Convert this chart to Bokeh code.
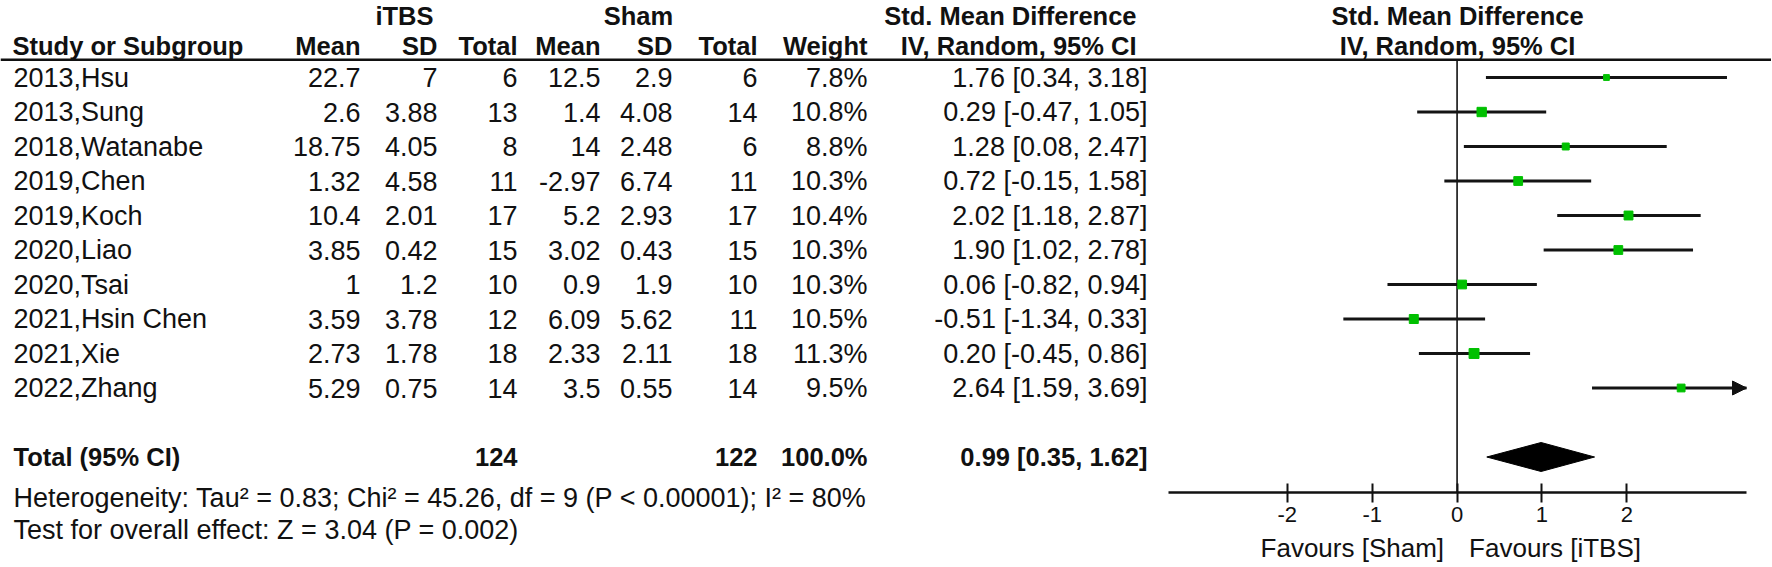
from bokeh.plotting import figure
from bokeh.models import Range1d, Span, FixedTicker, Arrow, NormalHead, LinearAxis
from bokeh.embed import file_html
from bokeh.resources import INLINE
from bokeh.core.properties import value

# ---------------- data ----------------
studies = ["2013,Hsu", "2013,Sung", "2018,Watanabe", "2019,Chen", "2019,Koch",
           "2020,Liao", "2020,Tsai", "2021,Hsin Chen", "2021,Xie", "2022,Zhang"]
itbs_mean = [22.7, 2.6, 18.75, 1.32, 10.4, 3.85, 1, 3.59, 2.73, 5.29]
itbs_sd = [7, 3.88, 4.05, 4.58, 2.01, 0.42, 1.2, 3.78, 1.78, 0.75]
itbs_n = [6, 13, 8, 11, 17, 15, 10, 12, 18, 14]
sham_mean = [12.5, 1.4, 14, -2.97, 5.2, 3.02, 0.9, 6.09, 2.33, 3.5]
sham_sd = [2.9, 4.08, 2.48, 6.74, 2.93, 0.43, 1.9, 5.62, 2.11, 0.55]
sham_n = [6, 14, 6, 11, 17, 15, 10, 11, 18, 14]
weight = [7.8, 10.8, 8.8, 10.3, 10.4, 10.3, 10.3, 10.5, 11.3, 9.5]
smd = [1.76, 0.29, 1.28, 0.72, 2.02, 1.90, 0.06, -0.51, 0.20, 2.64]
ci_low = [0.34, -0.47, 0.08, -0.15, 1.18, 1.02, -0.82, -1.34, -0.45, 1.59]
ci_high = [3.18, 1.05, 2.47, 1.58, 2.87, 2.78, 0.94, 0.33, 0.86, 3.69]
total_itbs_n = 124
total_sham_n = 122
total_weight = 100.0
total_smd = 0.99
total_low = 0.35
total_high = 1.62
heterogeneity = "Heterogeneity: Tau\u00b2 = 0.83; Chi\u00b2 = 45.26, df = 9 (P < 0.00001); I\u00b2 = 80%"
overall_effect = "Test for overall effect: Z = 3.04 (P = 0.002)"
x_ticks = [-2, -1, 0, 1, 2]
group_labels = ["iTBS", "Sham"]
favours_left = "Favours [Sham]"
favours_right = "Favours [iTBS]"

# ---------------- layout ----------------
FONT = "Liberation Sans"
FS = "27px"        # regular text
FSB = "25.5px"     # bold text
BLACK = "#111111"
GREEN = "#00c000"
PX_W, PX_H = 1771, 566

# forest-plot scale: effect axis from X_LO to X_HI spans pixels F_L..F_R
F_L, F_R = 1168, 1746
X_LO, X_HI = -3.40, 3.41
scale = (F_R - F_L) / (X_HI - X_LO)
XR = Range1d(X_LO - F_L / scale, X_HI + (PX_W - F_R) / scale)

# rows: row i centred at ROW0 + PITCH * i pixels from the top
ROW0, PITCH = 77, 34.5
YR = Range1d((PX_H - ROW0) / PITCH, -ROW0 / PITCH)
rows = list(range(len(studies)))
R_H1, R_H2, R_LINE = -1.797, -0.90, -0.513
R_TOT, R_HET, R_TEST = 11, 12.2, 13.13
R_AXIS = (492 - ROW0) / PITCH
R_FAV = (547 - ROW0) / PITCH

# table columns (pixel positions, right edges unless noted)
C_STUDY, C_IM, C_ISD, C_IN = 13, 360, 437, 517
C_SM, C_SSD, C_SN, C_W, C_SMD = 600, 672, 757, 867, 1147
C_G1, C_G2, C_HDR = 404, 638, 1136

def fmt(v):
    return f"{v:g}"

p = figure(width=PX_W, height=PX_H, x_range=XR, y_range=YR,
           extra_x_ranges={"tab": Range1d(0, PX_W)},
           output_backend="svg", toolbar_location=None,
           x_axis_location=None, y_axis_location=None,
           min_border_left=0, min_border_right=0, min_border_top=0, min_border_bottom=0)
p.grid.visible = False
p.outline_line_color = None

def txt(x, y, t, align, bold=False, rng="tab", size=None, **kw):
    p.text(x=x, y=y, text=t, text_align=align, text_baseline="middle",
           text_font=value(FONT), text_font_size=size or (FSB if bold else FS),
           text_font_style="bold" if bold else "normal", text_color=BLACK,
           x_range_name=rng, **kw)

# ---------- table ----------
txt(C_G1, R_H1, [group_labels[0]], "center", True)
txt(C_G2, R_H1, [group_labels[1]], "center", True)
txt(C_HDR, R_H1, ["Std. Mean Difference"], "right", True)
txt(C_STUDY - 1, R_H2, ["Study or Subgroup"], "left", True)
for cx, lab in [(C_IM, "Mean"), (C_ISD, "SD"), (C_IN, "Total"), (C_SM, "Mean"),
                (C_SSD, "SD"), (C_SN, "Total"), (C_W, "Weight"), (C_HDR, "IV, Random, 95% CI")]:
    txt(cx, R_H2, [lab], "right", True)
p.add_layout(Span(location=R_LINE, dimension="width", line_color=BLACK, line_width=2.5))

txt(C_STUDY, rows, studies, "left")
txt(C_IM, rows, [fmt(v) for v in itbs_mean], "right")
txt(C_ISD, rows, [fmt(v) for v in itbs_sd], "right")
txt(C_IN, rows, [fmt(v) for v in itbs_n], "right")
txt(C_SM, rows, [fmt(v) for v in sham_mean], "right")
txt(C_SSD, rows, [fmt(v) for v in sham_sd], "right")
txt(C_SN, rows, [fmt(v) for v in sham_n], "right")
txt(C_W, rows, [f"{w:.1f}%" for w in weight], "right")
txt(C_SMD, rows, [f"{m:.2f} [{lo:.2f}, {hi:.2f}]" for m, lo, hi in zip(smd, ci_low, ci_high)], "right")

txt(C_STUDY, R_TOT, ["Total (95% CI)"], "left", True)
txt(C_IN, R_TOT, [str(total_itbs_n)], "right", True)
txt(C_SN, R_TOT, [str(total_sham_n)], "right", True)
txt(C_W, R_TOT, [f"{total_weight:.1f}%"], "right", True)
txt(C_SMD, R_TOT, [f"{total_smd:.2f} [{total_low:.2f}, {total_high:.2f}]"], "right", True)
txt(C_STUDY, R_HET, [heterogeneity], "left")
txt(C_STUDY, R_TEST, [overall_effect], "left")

# ---------- forest plot ----------
xmid = (X_LO + X_HI) / 2
txt(xmid, R_H1, ["Std. Mean Difference"], "center", True, rng="default")
txt(xmid, R_H2, ["IV, Random, 95% CI"], "center", True, rng="default")

ax = LinearAxis(fixed_location=R_AXIS, bounds=(X_LO, X_HI), ticker=FixedTicker(ticks=x_ticks))
ax.major_label_overrides = {tk: str(tk) for tk in x_ticks}
ax.axis_line_width = 2.5
ax.axis_line_color = BLACK
ax.major_tick_line_width = 2
ax.major_tick_line_color = BLACK
ax.major_tick_in = 9
ax.major_tick_out = 10
ax.minor_tick_line_color = None
ax.major_label_text_font = FONT
ax.major_label_text_font_size = "22px"
ax.major_label_text_color = BLACK
ax.major_label_standoff = 4
p.add_layout(ax, "below")

# favours labels either side of the line of no effect
txt([0], [R_FAV], [favours_left], "right", rng="default", size="26px", x_offset=-13)
txt([0], [R_FAV], [favours_right], "left", rng="default", size="26px", x_offset=12)

# line of no effect
p.segment(x0=[0], y0=[R_LINE], x1=[0], y1=[R_AXIS], line_color=BLACK, line_width=1.6)

# confidence intervals (cut at the axis end, arrow where they run beyond it)
ci_draw_hi = [min(hi, X_HI) for hi in ci_high]
ci_draw_lo = [max(lo, X_LO) for lo in ci_low]
p.segment(x0=ci_draw_lo, y0=rows, x1=ci_draw_hi, y1=rows, line_color="#141414", line_width=3)
for hi, r in zip(ci_high, rows):
    if hi > X_HI:
        p.add_layout(Arrow(end=NormalHead(size=14, fill_color=BLACK, line_color=BLACK),
                           line_alpha=0, x_start=X_HI - 0.2, y_start=r, x_end=X_HI, y_end=r))

# study estimates, square size from weight
sizes = [6 + (w - 8) * 1.2 for w in weight]
p.scatter(x=smd, y=rows, size=sizes, marker="square", fill_color=GREEN, line_color=GREEN)

# pooled diamond
dh = 0.42
p.patch(x=[total_low, total_smd, total_high, total_smd],
        y=[R_TOT, R_TOT - dh, R_TOT, R_TOT + dh], fill_color="black", line_color="black")

open("out.html", "w").write(file_html(p, INLINE, title="Forest plot"))
